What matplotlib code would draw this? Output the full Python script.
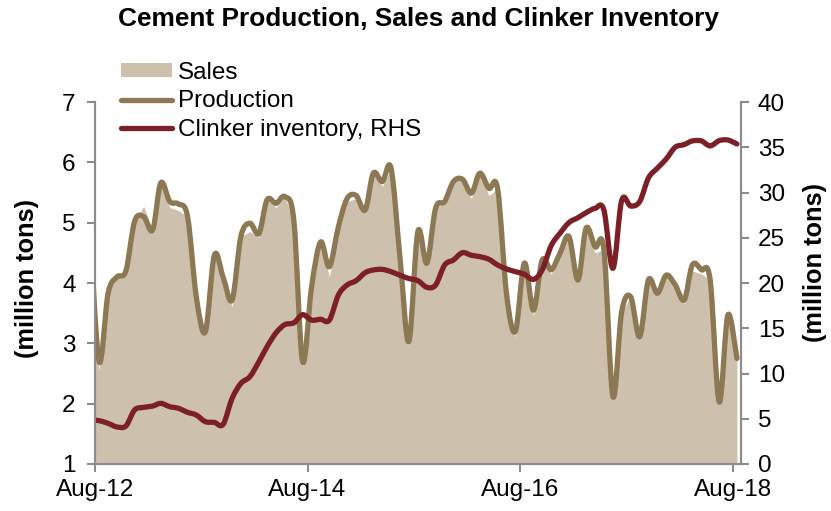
import matplotlib
matplotlib.use("Agg")
import matplotlib.pyplot as plt
import matplotlib.dates as mdates
from matplotlib.path import Path
from matplotlib.patches import PathPatch, Patch
from matplotlib.lines import Line2D
import pandas as pd

plt.rcParams['font.family'] = ['Liberation Sans', 'DejaVu Sans']

# monthly data, Jul-12 .. Aug-18 (Jul-12 sits just left of the axis and is clipped)
months = pd.date_range("2012-07-01", "2018-08-01", freq="MS") + pd.Timedelta(days=14)

production = [
    4.9,
    2.70, 3.83, 4.10, 4.20, 5.02, 5.10, 4.88, 5.66, 5.35, 5.31,
    5.10, 3.77, 3.19, 4.46, 4.10, 3.72, 4.77, 4.99, 4.82, 5.38,
    5.32, 5.43, 5.04, 2.70, 3.94, 4.68, 4.27, 4.93, 5.40, 5.45,
    5.21, 5.82, 5.68, 5.90, 4.40, 3.03, 4.85, 4.33, 5.24, 5.35,
    5.68, 5.72, 5.49, 5.82, 5.57, 5.56, 3.80, 3.20, 4.33, 3.55,
    4.38, 4.22, 4.49, 4.77, 4.05, 4.91, 4.60, 4.55, 2.12, 3.52,
    3.77, 3.11, 4.05, 3.83, 4.13, 3.97, 3.72, 4.30, 4.22, 4.05,
    2.03, 3.47, 2.75,
]

sales = [
    4.85,
    2.55, 3.83, 4.10, 4.20, 5.02, 5.27, 4.88, 5.66, 5.25, 5.20,
    5.10, 3.77, 3.19, 4.46, 4.10, 3.60, 4.77, 4.85, 4.75, 5.38,
    5.25, 5.43, 5.04, 2.60, 3.94, 4.68, 4.10, 4.93, 5.35, 5.40,
    5.21, 5.82, 5.60, 5.90, 4.40, 2.95, 4.85, 4.33, 5.24, 5.35,
    5.68, 5.72, 5.40, 5.82, 5.45, 5.56, 3.80, 3.10, 4.33, 3.45,
    4.38, 4.15, 4.49, 4.77, 4.05, 4.91, 4.50, 4.55, 2.12, 3.52,
    3.77, 3.11, 4.05, 3.83, 4.13, 3.97, 3.65, 4.20, 4.15, 4.05,
    2.03, 3.47, 2.72,
]

clinker = [
    4.9,
    4.79, 4.49, 4.10, 4.20, 5.97, 6.26, 6.40, 6.70, 6.33, 6.15,
    5.71, 5.41, 4.68, 4.60, 4.38, 7.25, 8.90, 9.65, 11.30, 12.96,
    14.50, 15.40, 15.60, 16.50, 15.90, 15.99, 15.90, 18.67, 19.78, 20.26,
    21.14, 21.44, 21.51, 21.25, 20.85, 20.50, 20.26, 19.52, 19.78, 21.99,
    22.54, 23.35, 23.06, 22.91, 22.62, 21.99, 21.55, 21.25, 20.96, 20.40,
    21.44, 24.13, 25.49, 26.67, 27.22, 27.77, 28.25, 28.07, 21.62, 29.10,
    28.50, 29.00, 31.60, 32.70, 33.70, 35.00, 35.30, 35.70, 35.70, 35.15,
    35.73, 35.80, 35.36,
]

tick_dates = pd.to_datetime(["2012-08-01", "2014-08-01", "2016-08-01", "2018-08-01"])

c_sales = '#CDC0AD'
c_prod = '#8C7853'
c_clinker = '#7D1F27'
c_axis = '#8C8C8C'


def smooth_path(x, y):
    # Excel-like smoothed line: cubic Bezier through every point
    verts = [(x[0], y[0])]
    codes = [Path.MOVETO]
    n = len(x)
    for i in range(n - 1):
        xp, yp = (x[i - 1], y[i - 1]) if i > 0 else (x[i], y[i])
        xn, yn = (x[i + 2], y[i + 2]) if i + 2 < n else (x[i + 1], y[i + 1])
        c1 = (x[i] + (x[i + 1] - xp) / 6, y[i] + (y[i + 1] - yp) / 6)
        c2 = (x[i + 1] - (xn - x[i]) / 6, y[i + 1] - (yn - y[i]) / 6)
        verts += [c1, c2, (x[i + 1], y[i + 1])]
        codes += [Path.CURVE4] * 3
    return Path(verts, codes)


fig = plt.figure(figsize=(8.31, 5.11), dpi=100)
ax = fig.add_axes([95 / 831, 1 - 464 / 511, 646 / 831, 362 / 511])
ax2 = ax.twinx()

xnum = mdates.date2num(months)

ax.fill_between(xnum, 1, sales, color=c_sales, lw=0)
ax.add_patch(PathPatch(smooth_path(xnum, production), facecolor='none',
                       edgecolor=c_prod, lw=3.8, capstyle='round', joinstyle='round'))
ax2.add_patch(PathPatch(smooth_path(xnum, clinker), facecolor='none',
                        edgecolor=c_clinker, lw=3.8, capstyle='round', joinstyle='round'))

xmin = mdates.date2num(pd.Timestamp("2012-08-01"))
xmax = mdates.date2num(pd.Timestamp("2018-08-29"))
ax.set_xlim(xmin, xmax)
ax.set_ylim(1, 7)
ax2.set_ylim(0, 40)
ax.set_yticks(range(1, 8))
ax2.set_yticks(range(0, 41, 5))
ax.set_xticks(mdates.date2num(tick_dates))
ax.xaxis.set_major_formatter(mdates.DateFormatter('%b-%y'))

for a in (ax, ax2):
    a.spines['top'].set_visible(False)
    for s in ('left', 'right', 'bottom'):
        a.spines[s].set_color(c_axis)
        a.spines[s].set_linewidth(1.5)
    a.tick_params(colors=c_axis, labelcolor='black', labelsize=17.5,
                  length=6, width=1.5, direction='out')
ax.tick_params(axis='y', pad=8)
ax2.tick_params(axis='y', pad=6)
ax.tick_params(axis='x', pad=5)

fig.text(418 / 831, 1 - 19 / 511, 'Cement Production, Sales and Clinker Inventory',
         ha='center', va='center', fontsize=18.9, fontweight='bold')
fig.text(27 / 831, 1 - 278 / 511, '(million tons)', rotation=90, ha='center', va='center',
         fontsize=18.3, fontweight='bold')
fig.text(815 / 831, 1 - 262 / 511, '(million tons)', rotation=90, ha='center', va='center',
         fontsize=18.3, fontweight='bold')

handles = [
    Patch(facecolor=c_sales, edgecolor='none'),
    Line2D([], [], color=c_prod, lw=3.8, solid_capstyle='round'),
    Line2D([], [], color=c_clinker, lw=3.8, solid_capstyle='round'),
]
fig.legend(handles, ['Sales', 'Production', 'Clinker inventory, RHS'],
           loc='upper left', bbox_to_anchor=(121 / 831, 1 - 62 / 511),
           frameon=False, fontsize=17.5, borderpad=0, borderaxespad=0,
           handlelength=2.1, handleheight=0.5, handletextpad=0.25, labelspacing=0.26)

fig.savefig('out.png', dpi=100)
